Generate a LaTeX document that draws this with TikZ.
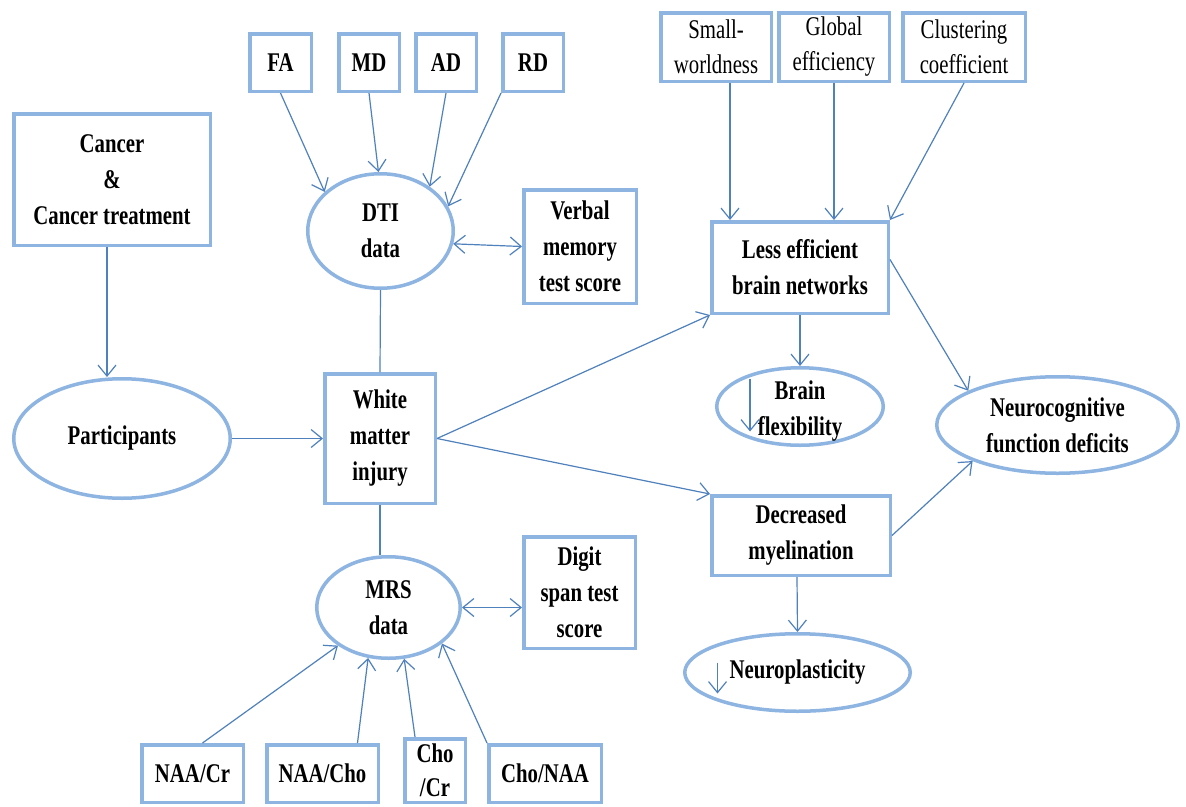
\documentclass[tikz,border=0pt]{standalone}
\usepackage{fontspec}
\setmainfont{Liberation Serif}[FakeStretch=0.77]
\usetikzlibrary{arrows.meta,shapes.geometric}
\definecolor{boxblue}{RGB}{142,180,226}
\definecolor{linkblue}{RGB}{79,129,189}
\tikzset{
  x=1pt, y=-1pt,
  >={Straight Barb[length=11pt,width=18pt]},
  box/.style={draw=boxblue, line width=3.5pt, rectangle, inner sep=0pt,
    align=center, font=\fontsize{27}{36}\selectfont\bfseries},
  metric/.style={box, font=\fontsize{27}{35}\selectfont},
  oval/.style={draw=boxblue, line width=3.5pt, ellipse, inner sep=0pt,
    align=center, font=\fontsize{27}{36}\selectfont\bfseries},
  plain/.style={draw=linkblue, line width=1.2pt},
  link/.style={plain, ->},
  bilink/.style={plain, <->},
}
\begin{document}
\begin{tikzpicture}
\fill[white] (0,0) rectangle (1186,806);
\useasboundingbox (0,0) rectangle (1186,806);

% DTI measures
\node[box, minimum width=61.5, minimum height=57.5] (fa) at (280.5,62.5) {FA};
\node[box, minimum width=60.5, minimum height=57.5] (md) at (369,62.5) {MD};
\node[box, minimum width=60.5, minimum height=57.5] (ad) at (446,62.5) {AD};
\node[box, minimum width=60.5, minimum height=57.5] (rd) at (533,62.5) {RD};

% network metrics
\node[metric, minimum width=110.5, minimum height=68.5] (sw) at (716,47) {Small-\\worldness};
\node[metric, minimum width=110.5, minimum height=68.5] (ge) at (834,47) {Global\\efficiency};
\node[metric, minimum width=122.5, minimum height=68.5] (cc) at (964,47) {Clustering\\coefficient};

% main chain
\node[box, minimum width=196.5, minimum height=131.5] (cancer) at (112,179.5) {Cancer\\\&\\Cancer treatment};
\node[oval, minimum width=216.5, minimum height=119.5] (part) at (122,438.5) {Participants};
\node[box, minimum width=110.5, minimum height=129.5] (wm) at (380,438.5) {White\\matter\\injury};
\node[oval, minimum width=145.5, minimum height=114.5] (dti) at (380.5,231) {DTI\\data};
\node[oval, minimum width=143.5, minimum height=101.5] (mrs) at (388.5,607.5) {MRS\\data};
\node[box, minimum width=112.5, minimum height=113.5] (verbal) at (580,246.5) {Verbal\\memory\\test score};
\node[box, minimum width=111.5, minimum height=111.5] (digit) at (579.5,592.5) {Digit\\span test\\score};

% outcomes
\node[box, minimum width=176.5, minimum height=91.5] (lef) at (800,267.5) {Less efficient\\brain networks};
\node[oval, minimum width=166.5, minimum height=77.5, inner ysep=-10pt] (bf) at (800,406.5) {\rule{0pt}{28pt}Brain\\flexibility};
\node[box, minimum width=178.5, minimum height=79.5] (dm) at (801,535.5) {Decreased\\myelination};
\node[oval, minimum width=225.5, minimum height=77.5] (np) at (797.5,672.5) {Neuroplasticity};
\node[oval, minimum width=241.5, minimum height=96.5] (nc) at (1057.5,425) {Neurocognitive\\function deficits};

% MRS ratios
\node[box, minimum width=101.5, minimum height=57.5] (naacr) at (192.5,773.5) {NAA/Cr};
\node[box, minimum width=111.5, minimum height=57.5] (naacho) at (322.5,773.5) {NAA/Cho};
\node[box, minimum width=60.5, minimum height=63.5, font=\fontsize{27}{34}\selectfont\bfseries] (chocr) at (435,770.5) {Cho\\/Cr};
\node[box, minimum width=112.5, minimum height=57.5] (chonaa) at (545,773.5) {Cho/NAA};

% connectors
\draw[link] ([xshift=-5pt]cancer.south) -- ([xshift=-15pt]part.north);
\draw[link] (part.east) -- (wm.west);
\draw[plain] (dti.south) -- (wm.north);
\draw[plain] (wm.south) -- (wm.south |- mrs.north);

\draw[link] (fa.south) -- (dti.145);
\draw[link] (md.south) -- (dti.92);
\draw[link] (ad.south) -- (dti.42);
\draw[link] (rd.south west) -- (dti.20);

\draw[bilink] (dti.-10) -- (verbal.west);
\draw[bilink] (mrs.east) -- (mrs.east -| digit.west);

\draw[link] (wm.east) -- (lef.south west);
\draw[link] (wm.east) -- (dm.north west);

\draw[link] ([xshift=14pt]sw.south) -- ([xshift=-70pt]lef.north);
\draw[link] (ge.south) -- ([xshift=34pt]lef.north);
\draw[link] (cc.south) -- (lef.north east);

\draw[link] (lef.south) -- (bf.north);
\draw[link] ([yshift=8pt]lef.east) -- (nc.159);
\draw[link] (dm.east) -- (nc.203);
\draw[link] ([xshift=-4pt]dm.south) -- (np.north);

\draw[link] ([xshift=10pt]naacr.north) -- (mrs.-143);
\draw[link] ([xshift=35pt]naacho.north) -- (mrs.248);
\draw[link] ([xshift=-20pt]chocr.north) -- (mrs.287);
\draw[link] (chonaa.north west) -- (mrs.326);

% "decrease" marks inside the outcome ovals
\draw[link] ([shift={(-50,-28)}]bf.center) -- ([shift={(-50,25)}]bf.center);
\draw[link] ([shift={(-80,-10)}]np.center) -- ([shift={(-80,21)}]np.center);
\end{tikzpicture}
\end{document}
